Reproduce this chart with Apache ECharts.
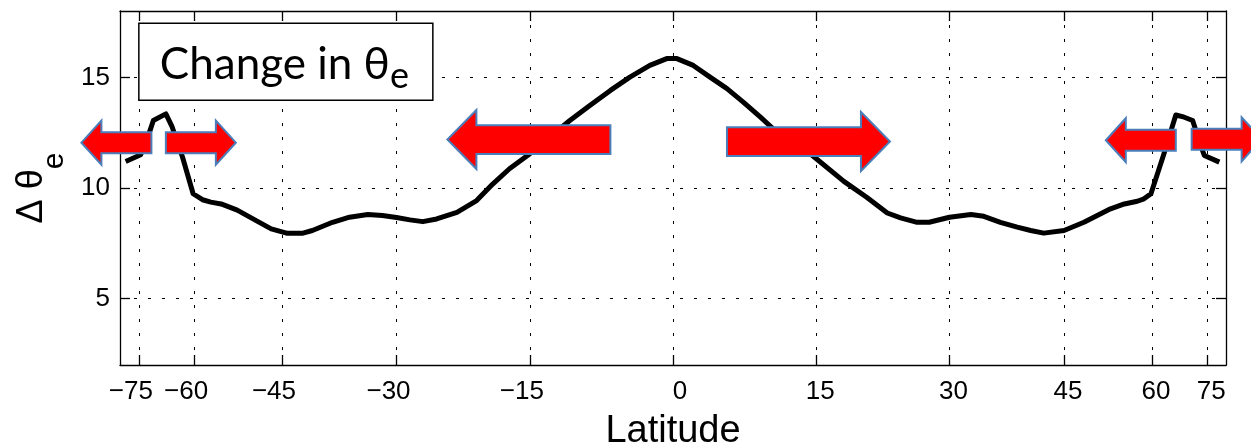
<!DOCTYPE html>
<html><head><meta charset="utf-8">
<script src="https://cdn.jsdelivr.net/npm/echarts@6/dist/echarts.min.js"></script>
<style>html,body{margin:0;padding:0;background:#fff}#c{width:1251px;height:445px}</style>
</head><body><div id="c"></div>
<script>
// ---- data ----
const latitudes = [-81.8, -74.3, -71.5, -70.0, -66.5, -65.0, -62.5, -60.2, -58.3, -56.7, -54.8, -52.0, -49.2, -46.6, -44.2, -42.0, -40.7, -38.0, -35.8, -33.5, -31.7, -30.0, -28.4, -26.9, -25.3, -23.0, -20.8, -19.0, -17.2, -15.0, -12.9, -10.75, -8.65, -6.5, -4.47, -2.4, -0.65, 0.4, 2.1, 3.84, 5.6, 7.3, 9.1, 10.8, 12.6, 14.6, 18.0, 20.5, 22.8, 24.3, 26.2, 27.6, 30.0, 32.6, 34.2, 36.3, 38.5, 40.3, 42.1, 45.0, 48.0, 50.1, 52.3, 54.7, 57.1, 58.4, 59.8, 62.6, 65.4, 67.6, 70.0, 72.4, 73.9, 81.1];
const deltaThetaE = [11.2, 11.5, 12.4, 13.05, 13.35, 12.8, 11.4, 9.74, 9.47, 9.36, 9.28, 9.0, 8.57, 8.15, 7.95, 7.96, 8.08, 8.45, 8.68, 8.8, 8.76, 8.67, 8.56, 8.48, 8.6, 8.9, 9.43, 10.19, 10.87, 11.55, 12.3, 13.05, 13.73, 14.41, 15.01, 15.54, 15.85, 15.85, 15.54, 15.01, 14.49, 13.88, 13.2, 12.53, 12.12, 11.47, 10.3, 9.58, 8.87, 8.65, 8.45, 8.45, 8.68, 8.8, 8.72, 8.45, 8.23, 8.08, 7.96, 8.08, 8.45, 8.76, 9.06, 9.28, 9.4, 9.51, 9.74, 11.55, 13.3, 13.2, 13.05, 12.0, 11.47, 11.17];
const xTickLatitudes = [-75, -60, -45, -30, -15, 0, 15, 30, 45, 60, 75];
const yTickValues = [5, 10, 15];
const xAxisTitle = 'Latitude';
const boxTitle = 'Change in θ';
const boxSub = 'e';

// ---- helpers ----
const RAD = Math.PI / 180;
const sinLat = l => Math.sin(l * RAD);
const latOf = v => Math.round(Math.asin(Math.max(-1, Math.min(1, v))) / RAD);
const latLabel = v => {
  const d = latOf(v);
  if (d < 0) return '{n|\u2212' + (-d) + '}';
  if (d === 0) return '{z|0}';
  return '{p|' + d + '}';
};

const FONT = '"Liberation Sans", Arial, Helvetica, sans-serif';
const chart = echarts.init(document.getElementById('c'), null, {renderer: 'canvas'});

const xTickPos = xTickLatitudes.map(sinLat);
const axisLineStyle = {color: '#000', width: 1.3};
const gridLineStyle = {color: '#000', width: 1, type: [3, 11]};
const lblBase = {fontFamily: FONT, fontSize: 26, color: '#000'};

const option = {
  animation: false,
  backgroundColor: '#fff',
  grid: {left: 120, right: 25, top: 11, bottom: 80, containLabel: false, outerBoundsMode: 'none'},
  xAxis: [{
    type: 'value', min: -1, max: 1, position: 'bottom',
    axisLine: {show: true, onZero: false, lineStyle: axisLineStyle},
    axisTick: {show: true, inside: true, length: 10, customValues: xTickPos, lineStyle: axisLineStyle},
    axisLabel: {
      show: true, customValues: xTickPos, formatter: latLabel, margin: 14,
      fontFamily: FONT, fontSize: 26, color: '#000',
      rich: {
        n: Object.assign({padding: [0, 16, 0, 0]}, lblBase),
        z: Object.assign({padding: [0, 0, 0, 14]}, lblBase),
        p: Object.assign({padding: [0, 0, 0, 8]}, lblBase)
      }
    },
    splitLine: {show: true, lineStyle: gridLineStyle},
    name: xAxisTitle, nameLocation: 'middle', nameGap: 48,
    nameTextStyle: {fontFamily: FONT, fontSize: 38, color: '#000'}
  }, {
    type: 'value', min: -1, max: 1, position: 'top',
    axisLine: {show: true, onZero: false, lineStyle: axisLineStyle},
    axisTick: {show: true, inside: true, length: 10, customValues: xTickPos, lineStyle: axisLineStyle},
    axisLabel: {show: false}, splitLine: {show: false}
  }],
  yAxis: [{
    type: 'value', min: 2, max: 18, position: 'left',
    axisLine: {show: true, onZero: false, lineStyle: axisLineStyle},
    axisTick: {show: true, inside: true, length: 10, customValues: yTickValues, lineStyle: axisLineStyle},
    axisLabel: {show: true, customValues: yTickValues, fontFamily: FONT, fontSize: 26, color: '#000', margin: 10},
    splitLine: {show: true, lineStyle: gridLineStyle},
    name: '{a|Δ θ}{b|e}', nameLocation: 'middle', nameGap: 54, nameRotate: 90,
    nameTextStyle: {
      color: '#000',
      rich: {
        a: {fontFamily: FONT, fontSize: 36, lineHeight: 36, verticalAlign: 'top', color: '#000'},
        b: {fontFamily: FONT, fontSize: 30, lineHeight: 30, verticalAlign: 'top', padding: [26, 0, 0, 0], color: '#000'}
      }
    }
  }, {
    type: 'value', min: 2, max: 18, position: 'right',
    axisLine: {show: true, onZero: false, lineStyle: axisLineStyle},
    axisTick: {show: true, inside: true, length: 10, customValues: yTickValues, lineStyle: axisLineStyle},
    axisLabel: {show: false}, splitLine: {show: false}
  }],
  series: [{
    type: 'line',
    xAxisIndex: 0, yAxisIndex: 0,
    data: latitudes.map((l, i) => [sinLat(l), deltaThetaE[i]]),
    showSymbol: false, symbol: 'none',
    lineStyle: {color: '#000', width: 5, join: 'round'},
    smooth: false, z: 3
  }]
};
chart.setOption(option);

// ---- annotations (anchored in latitude / Δθe space) ----
const arrowSizes = {
  small: {len: 70, headLen: 20, headHalf: 22, bodyHalf: 10.5},
  big: {len: 163, headLen: 29, headHalf: 29.5, bodyHalf: 14.4}
};
const arrowAnchors = [
  {lat: -70.6, val: 12.05, dir: -1, size: 'small'},
  {lat: -66.5, val: 12.05, dir: 1, size: 'small'},
  {lat: -6.5, val: 12.19, dir: -1, size: 'big'},
  {lat: 5.6, val: 12.1, dir: 1, size: 'big'},
  {lat: 65.4, val: 12.16, dir: -1, size: 'small'},
  {lat: 69.7, val: 12.2, dir: 1, size: 'small'}
];
const boxAnchor = {lat: -75, val: 17.45, w: 294, h: 77};

function toPx(lat, val) {
  return chart.convertToPixel({xAxisIndex: 0, yAxisIndex: 0}, [sinLat(lat), val]);
}

const graphics = [];
arrowAnchors.forEach(a => {
  const s = arrowSizes[a.size];
  const [x0, y0] = toPx(a.lat, a.val);
  const d = a.dir;
  const xb = x0 + d * (s.len - s.headLen);
  graphics.push({
    type: 'polygon', z: 100,
    shape: {points: [
      [x0, y0 - s.bodyHalf], [xb, y0 - s.bodyHalf], [xb, y0 - s.headHalf],
      [x0 + d * s.len, y0], [xb, y0 + s.headHalf], [xb, y0 + s.bodyHalf], [x0, y0 + s.bodyHalf]
    ]},
    style: {fill: '#FF0000', stroke: '#4A7EBB', lineWidth: 2}
  });
});

const [bx, by] = toPx(boxAnchor.lat, boxAnchor.val);
graphics.push({
  type: 'rect', z: 100,
  shape: {x: bx, y: by, width: boxAnchor.w, height: boxAnchor.h},
  style: {fill: '#fff', stroke: '#000', lineWidth: 1.5}
});
graphics.push({
  type: 'text', z: 101,
  x: bx + 21, y: by + 20,
  style: {
    text: '{a|' + boxTitle + '}{b|' + boxSub + '}',
    align: 'left', verticalAlign: 'top',
    rich: {
      a: {fontFamily: 'Lato, "Open Sans", sans-serif', fontSize: 44, lineHeight: 44, verticalAlign: 'top', fill: '#000', color: '#000'},
      b: {fontFamily: 'Lato, "Open Sans", sans-serif', fontSize: 36, lineHeight: 36, verticalAlign: 'top', padding: [15, 0, 0, 0], fill: '#000', color: '#000'}
    }
  }
});
chart.setOption({graphic: graphics});
</script>
</body></html>
